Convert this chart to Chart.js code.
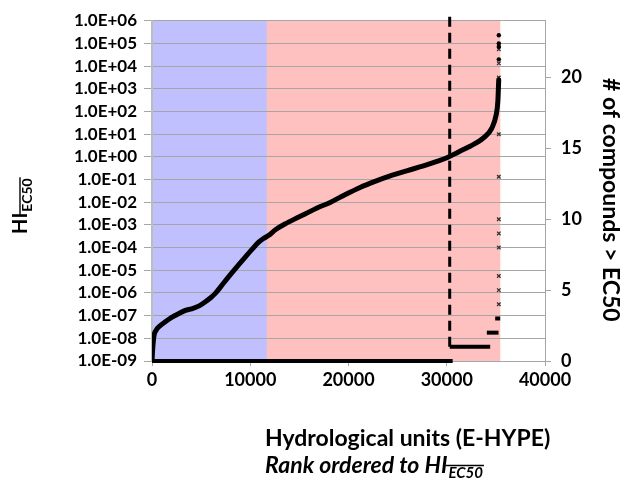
<!DOCTYPE html>
<html>
<head>
<meta charset="utf-8">
<script src="https://cdn.jsdelivr.net/npm/chart.js@4/dist/chart.umd.min.js"></script>
<style>
  html, body { margin: 0; padding: 0; background: #fff; }
  #wrap { width: 629px; height: 486px; position: relative; }
</style>
</head>
<body>
<div id="wrap"><canvas id="hiChart"></canvas></div>
<script>
// HI (EC50) per hydrological unit, rank ordered
const hiRank = [0, 20, 50, 100, 200, 400, 800, 1320, 2000, 2680, 3400, 4040, 4800, 5400, 6000, 6420, 7000, 7770, 8600, 9470,
    10200, 10830, 11400, 11850, 12600, 13540, 14500, 15580, 16800, 18130, 19600, 21180, 22700, 24240, 26000, 27630, 29000, 30010, 31200, 32380,
    33740, 34590, 35030, 35200, 35270, 35290];
const hiValue = [1.0e-9, 1.4e-9, 2.5e-9, 5.0e-9, 1.3e-8, 2.2e-8, 3.5e-8, 5.2e-8, 8.3e-8, 1.2e-7, 1.7e-7, 2.0e-7, 2.7e-7, 4.0e-7, 6.3e-7, 9.3e-7, 1.9e-6, 5.0e-6, 1.35e-5, 3.7e-5,
    8.5e-5, 1.7e-4, 2.6e-4, 3.4e-4, 6.3e-4, 1.1e-3, 1.8e-3, 3.0e-3, 5.6e-3, 9.8e-3, 2.1e-2, 4.5e-2, 8.3e-2, 0.145, 0.25, 0.40, 0.63, 0.91, 1.66, 2.95,
    6.9, 18.6, 72, 280, 1500, 2500];
// the few extreme units at the top
const hiTopRank = [35300, 35300, 35300, 35300];
const hiTopValue = [2.0e4, 7.2e4, 1.0e5, 2.3e5];

// # of compounds > EC50 (right axis): runs of equal counts
const countLevel = [0, 1, 2, 3];
const countFrom = [0, 30300, 34080, 34930];
const countTo = [30600, 34420, 35270, 35440];
// single units with higher counts
const countDotRank = [35300, 35300, 35300, 35300, 35300, 35300, 35300, 35300, 35300, 35300, 35300];
const countDotValue = [4, 5, 6, 8, 9, 10, 13, 16, 20, 21, 22];

// rank where HI = 1
const hiOneRank = 30300;
const hiOneLine = [1, 24.6];

// shaded rank ranges
const regionFrom = [0, 11700];
const regionTo = [11700, 35450];
const regionColors = ['#c0c0ff', '#ffc0c0'];

const yTickValues = [1e-9, 1e-8, 1e-7, 1e-6, 1e-5, 1e-4, 1e-3, 1e-2, 1e-1, 1e0, 1e1, 1e2, 1e3, 1e4, 1e5, 1e6];
const yTickLabels = ['1.0E-09', '1.0E-08', '1.0E-07', '1.0E-06', '1.0E-05', '1.0E-04', '1.0E-03', '1.0E-02',
    '1.0E-01', '1.0E+00', '1.0E+01', '1.0E+02', '1.0E+03', '1.0E+04', '1.0E+05', '1.0E+06'];
const y2TickValues = [0, 5, 10, 15, 20];
const xTickValues = [0, 10000, 20000, 30000, 40000];

const FONT = 'Lato, "Open Sans", sans-serif';
const GRID = '#a6a6a6';

// background bands behind the grid
const bandPlugin = {
    id: 'bands',
    beforeDraw(chart) {
        const {ctx, chartArea, scales} = chart;
        ctx.save();
        regionFrom.forEach((from, i) => {
            const x0 = scales.x.getPixelForValue(from);
            const x1 = scales.x.getPixelForValue(regionTo[i]);
            ctx.fillStyle = regionColors[i];
            ctx.fillRect(x0, chartArea.top, x1 - x0, chartArea.bottom - chartArea.top);
        });
        ctx.restore();
    }
};

// draws "HI" + overlined subscript EC50, starting at x (text baseline at 0)
function drawHI(ctx, x, big, small, italic) {
    const it = italic ? 'italic ' : '';
    ctx.font = it + 'bold ' + big + 'px ' + FONT;
    ctx.fillText('HI', x, 0);
    const w = ctx.measureText('HI').width;
    ctx.font = it + 'bold ' + small + 'px ' + FONT;
    const sw = ctx.measureText('EC50').width;
    const sx = x + w + 1;
    const sy = small * 0.35;
    ctx.fillText('EC50', sx, sy);
    ctx.lineWidth = 1.4;
    ctx.beginPath();
    ctx.moveTo(sx - 3, sy - small * 0.85);
    ctx.lineTo(sx + sw + 1, sy - small * 0.85);
    ctx.stroke();
    return w + sw + 1;
}

const titlePlugin = {
    id: 'titles',
    afterDraw(chart) {
        const ctx = chart.ctx;
        ctx.save();
        ctx.fillStyle = '#000';
        ctx.strokeStyle = '#000';
        ctx.textBaseline = 'alphabetic';
        ctx.textAlign = 'left';

        // left axis title
        ctx.save();
        ctx.translate(27, 234);
        ctx.rotate(-Math.PI / 2);
        drawHI(ctx, 0, 20, 14, false);
        ctx.restore();

        // right axis title
        ctx.save();
        ctx.translate(603, 78);
        ctx.rotate(Math.PI / 2);
        ctx.font = 'bold 23px ' + FONT;
        ctx.fillText('# of compounds > EC50', 0, 0);
        ctx.restore();

        // x axis title, two lines
        ctx.font = 'bold 23px ' + FONT;
        ctx.fillText('Hydrological units (E-HYPE)', 265, 446);
        ctx.save();
        ctx.font = 'italic bold 23px ' + FONT;
        ctx.translate(265, 473);
        ctx.fillText('Rank ordered to ', 0, 0);
        const w = ctx.measureText('Rank ordered to ').width;
        drawHI(ctx, w, 23, 15, true);
        ctx.restore();

        ctx.restore();
    }
};

const datasets = [
    {
        label: 'HI',
        data: hiRank.map((r, i) => ({x: r, y: hiValue[i]})),
        yAxisID: 'y',
        showLine: true,
        borderColor: '#000',
        borderWidth: 5,
        pointRadius: 0,
        cubicInterpolationMode: 'monotone',
        borderCapStyle: 'round'
    },
    {
        label: 'HI top',
        data: hiTopRank.map((r, i) => ({x: r, y: hiTopValue[i]})),
        yAxisID: 'y',
        pointRadius: 2.2,
        pointBackgroundColor: '#000',
        pointBorderColor: '#000',
        pointBorderWidth: 0
    },
    {
        label: 'HI = 1',
        data: hiOneLine.map(v => ({x: hiOneRank, y: v})),
        yAxisID: 'y2',
        showLine: true,
        borderColor: '#000',
        borderWidth: 3,
        borderDash: [10, 6],
        pointRadius: 0,
        clip: false
    },
    ...countLevel.map((lvl, i) => ({
        label: 'count ' + lvl,
        data: [{x: countFrom[i], y: lvl}, {x: countTo[i], y: lvl}],
        yAxisID: 'y2',
        showLine: true,
        borderColor: '#000',
        borderWidth: 4,
        pointRadius: 0,
        clip: false
    })),
    {
        label: 'count single',
        data: countDotRank.map((r, i) => ({x: r, y: countDotValue[i]})),
        yAxisID: 'y2',
        pointStyle: 'crossRot',
        pointRadius: 2.5,
        pointBorderColor: '#333',
        pointBorderWidth: 1.3
    }
];

new Chart(document.getElementById('hiChart'), {
    type: 'scatter',
    data: {datasets},
    options: {
        responsive: true,
        maintainAspectRatio: false,
        animation: false,
        layout: {padding: {top: 19, left: 0, right: 0, bottom: 0}},
        plugins: {legend: {display: false}, tooltip: {enabled: false}},
        scales: {
            x: {
                type: 'linear',
                position: 'bottom',
                min: 0,
                max: 40000,
                afterBuildTicks: s => { s.ticks = xTickValues.map(v => ({value: v})); },
                afterFit: s => { s.height = 125; },
                grid: {drawOnChartArea: false, drawTicks: true, tickLength: 5, color: GRID},
                border: {display: true, color: GRID, width: 1},
                ticks: {
                    color: '#000',
                    padding: 3,
                    maxRotation: 0,
                    autoSkip: false,
                    font: {family: FONT, size: 18, weight: 'bold'},
                    callback: v => String(v)
                }
            },
            y: {
                type: 'logarithmic',
                position: 'left',
                min: 1e-9,
                max: 1e6,
                afterBuildTicks: s => { s.ticks = yTickValues.map(v => ({value: v})); },
                afterFit: s => { s.width = 152; },
                grid: {color: GRID, lineWidth: 1, drawTicks: true, tickLength: 8, tickColor: GRID},
                border: {display: true, color: '#bdbdbd', width: 2},
                ticks: {
                    color: '#000',
                    padding: 7,
                    autoSkip: false,
                    font: {family: FONT, size: 17, weight: 'bold'},
                    callback: (v, i) => yTickLabels[i]
                }
            },
            y2: {
                type: 'linear',
                position: 'right',
                min: 0,
                max: 24,
                afterBuildTicks: s => { s.ticks = y2TickValues.map(v => ({value: v})); },
                afterFit: s => { s.width = 84; },
                grid: {drawOnChartArea: false, drawTicks: true, tickLength: 6, color: GRID},
                border: {display: true, color: GRID, width: 1},
                ticks: {
                    color: '#000',
                    padding: 10,
                    autoSkip: false,
                    font: {family: FONT, size: 18, weight: 'bold'}
                }
            }
        }
    },
    plugins: [bandPlugin, titlePlugin]
});
</script>
</body>
</html>
